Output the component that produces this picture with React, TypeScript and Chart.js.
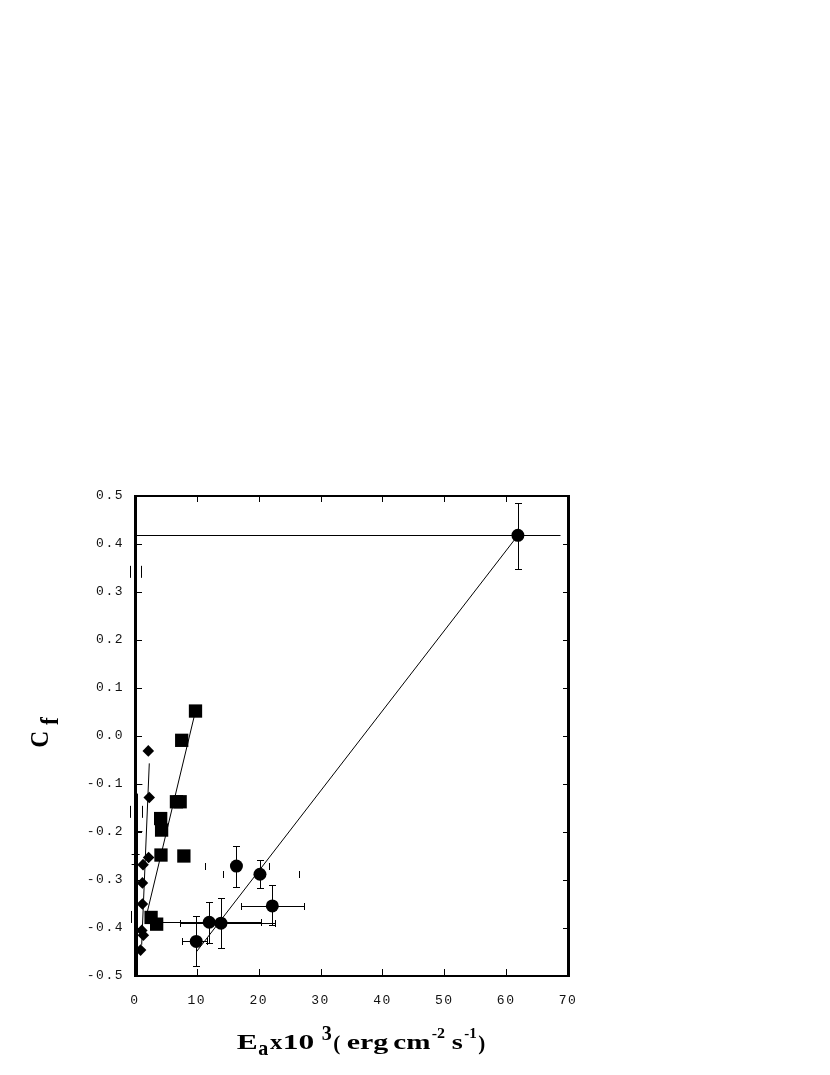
import React, { useEffect, useRef } from 'react';
import { Chart, registerables } from 'chart.js';

Chart.register(...registerables);

// ---- axis ticks ----
const xTickValues = [0, 10, 20, 30, 40, 50, 60, 70];
const yTickValues = [-0.5, -0.4, -0.3, -0.2, -0.1, 0, 0.1, 0.2, 0.3, 0.4, 0.5];

// ---- circle series (with error bars) ----
const circleX = [61.9, 16.4, 20.2, 22.2, 12.0, 13.9, 9.9];
const circleY = [0.418, -0.271, -0.288, -0.354, -0.388, -0.39, -0.428];
const circleXLo = [0, 11.3, 14.2, 17.1, 3.0, 7.3, 7.6];
const circleXHi = [68.7, 21.7, 26.5, 27.3, 20.3, 22.6, 11.6];
const circleYLo = [0.347, -0.314, -0.317, -0.393, -0.432, -0.442, -0.48];
const circleYHi = [0.486, -0.229, -0.258, -0.311, -0.345, -0.338, -0.375];
const circleXBarLine = [true, false, false, true, true, true, true];
const circleXBarCaps = [false, true, true, true, true, true, true];

// ---- square series ----
const squareX = [9.78, 7.55, 6.7, 7.3, 4.15, 4.3, 4.2, 7.9, 2.6, 3.5];
const squareY = [0.052, -0.009, -0.137, -0.137, -0.172, -0.196, -0.248, -0.25, -0.378, -0.392];

// ---- diamond series ----
const diamondX = [2.15, 2.3, 2.2, 1.3, 1.2, 1.2, 1.1, 1.35, 0.9];
const diamondY = [-0.031, -0.128, -0.253, -0.268, -0.306, -0.35, -0.405, -0.415, -0.446];

// ---- fitted lines ----
const circleFitX = [9.9, 61.9];
const circleFitY = [-0.45, 0.418];
const squareFitX = [1.83, 9.78];
const squareFitY = [-0.375, 0.052];
const diamondFitX = [1.08, 2.31];
const diamondFitY = [-0.435, -0.057];

// ---- stray error-bar remnants near the y axis ----
const stubX = [0.4, 0.4];
const stubY = [-0.12, -0.5];
const vCapX = [-0.8, 1.0, -0.8, 1.1, -0.65];
const vCapY = [0.342, 0.342, -0.158, -0.158, -0.377];
const hCapX = [0.55, 0.55, 0.1, 0.1];
const hCapY = [-0.099, -0.197, -0.245, -0.267];

const pts = (xs: number[], ys: number[]) => xs.map((x, i) => ({ x, y: ys[i] }));

function drawPiece(ctx: CanvasRenderingContext2D, text: string, font: string, x0: number, x1: number, baseline: number) {
  ctx.save();
  ctx.font = font;
  const m = ctx.measureText(text);
  const ink = m.actualBoundingBoxLeft + m.actualBoundingBoxRight;
  const sx = (x1 - x0) / ink;
  ctx.translate(x0 + m.actualBoundingBoxLeft * sx, baseline);
  ctx.scale(sx, 1);
  ctx.textAlign = 'left';
  ctx.textBaseline = 'alphabetic';
  ctx.fillText(text, 0, 0);
  ctx.restore();
}

function drawPieceRot(ctx: CanvasRenderingContext2D, text: string, font: string, yBottom: number, yTop: number, baselineX: number) {
  ctx.save();
  ctx.translate(baselineX, yBottom);
  ctx.rotate(-Math.PI / 2);
  drawPiece(ctx, text, font, 0, yBottom - yTop, 0);
  ctx.restore();
}

const framePlugin = {
  id: 'framePlugin',
  beforeDraw(chart: any) {
    (chart.ctx as any).letterSpacing = '1.5px';
  },
  beforeDatasetsDraw(chart: any) {
    const ctx: CanvasRenderingContext2D = chart.ctx;
    const xs = chart.scales.x;
    const ys = chart.scales.y;
    const X = (v: number) => xs.getPixelForValue(v);
    const Y = (v: number) => ys.getPixelForValue(v);
    ctx.save();
    ctx.strokeStyle = '#000';
    ctx.lineWidth = 1;
    const cap = 3.5;
    ctx.beginPath();
    for (let i = 0; i < circleX.length; i++) {
      const px = Math.round(X(circleX[i])) + 0.5;
      const py = Math.round(Y(circleY[i])) + 0.5;
      // vertical error bar
      const yl = Math.round(Y(circleYLo[i])) + 0.5;
      const yh = Math.round(Y(circleYHi[i])) + 0.5;
      ctx.moveTo(px, yl); ctx.lineTo(px, yh);
      ctx.moveTo(px - cap, yl); ctx.lineTo(px + cap, yl);
      ctx.moveTo(px - cap, yh); ctx.lineTo(px + cap, yh);
      // horizontal error bar
      const xl = Math.round(X(circleXLo[i])) + 0.5;
      const xh = Math.round(X(circleXHi[i])) + 0.5;
      if (circleXBarLine[i]) { ctx.moveTo(xl, py); ctx.lineTo(xh, py); }
      if (circleXBarCaps[i]) {
        ctx.moveTo(xl, py - cap); ctx.lineTo(xl, py + cap);
        ctx.moveTo(xh, py - cap); ctx.lineTo(xh, py + cap);
      }
    }
    // stray vertical stub
    const sx = Math.round(X(stubX[0])) + 0.5;
    ctx.moveTo(sx, Y(stubY[0])); ctx.lineTo(Math.round(X(stubX[1])) + 0.5, Y(stubY[1]));
    // stray caps
    for (let i = 0; i < vCapX.length; i++) {
      const px = Math.round(X(vCapX[i])) + 0.5;
      const py = Y(vCapY[i]);
      ctx.moveTo(px, py - 6); ctx.lineTo(px, py + 6);
    }
    for (let i = 0; i < hCapX.length; i++) {
      const px = X(hCapX[i]);
      const py = Math.round(Y(hCapY[i])) + 0.5;
      ctx.moveTo(px - 4, py); ctx.lineTo(px + 4, py);
    }
    ctx.stroke();
    ctx.restore();
  },
  afterDraw(chart: any) {
    const ctx: CanvasRenderingContext2D = chart.ctx;
    (ctx as any).letterSpacing = '0px';
    const xs = chart.scales.x;
    const ys = chart.scales.y;
    const { left, right, top, bottom } = chart.chartArea;
    ctx.save();
    ctx.fillStyle = '#000';
    // frame
    ctx.fillRect(left - 1, top - 1, 3, bottom - top + 2);
    ctx.fillRect(right - 1, top - 1, 3, bottom - top + 2);
    ctx.fillRect(left - 1, top - 1, right - left + 3, 2);
    ctx.fillRect(left - 1, bottom - 1, right - left + 3, 2);
    // inward ticks
    xTickValues.slice(1, -1).forEach((v) => {
      const px = Math.round(xs.getPixelForValue(v));
      ctx.fillRect(px, bottom - 7, 1, 6);
      ctx.fillRect(px, top + 1, 1, 5);
    });
    yTickValues.slice(1, -1).forEach((v) => {
      const py = Math.round(ys.getPixelForValue(v));
      ctx.fillRect(left + 2, py, 5, 1);
      ctx.fillRect(right - 5, py, 4, 1);
    });
    // x title
    const big = 'bold 22px "Liberation Serif"';
    const sm = 'bold 14px "Liberation Serif"';
    drawPiece(ctx, 'E', big, 228.7, 248.7, 1041.3);
    drawPiece(ctx, 'a', big, 250.3, 260.3, 1047);
    drawPiece(ctx, 'x', big, 262, 274.3, 1041.3);
    drawPiece(ctx, '10', big, 276.3, 306.3, 1041.3);
    drawPiece(ctx, '3', big, 313.7, 323.7, 1032);
    drawPiece(ctx, '(', big, 325.3, 332, 1042);
    drawPiece(ctx, 'erg', big, 338.7, 380.3, 1041.3);
    drawPiece(ctx, 'cm', big, 385.3, 422, 1041.3);
    drawPiece(ctx, '-2', sm, 423.7, 437, 1030.3);
    drawPiece(ctx, 's', big, 443.7, 455.3, 1041.3);
    drawPiece(ctx, '-1', sm, 456.3, 468.7, 1030.3);
    drawPiece(ctx, ')', big, 470.3, 477, 1042);
    // y title
    const yt = 'bold 25px "Liberation Serif"';
    drawPieceRot(ctx, 'C', yt, 738.7, 723.7, 40.3);
    drawPieceRot(ctx, 'f', yt, 717, 708.7, 50.3);
    ctx.restore();
  },
};

export default function App() {
  const ref = useRef<HTMLCanvasElement>(null);
  useEffect(() => {
    if (!ref.current) return;
    const tickFont = { family: '"Liberation Mono", monospace', size: 13 };
    const chart = new Chart(ref.current, {
      type: 'scatter',
      data: {
        datasets: [
          {
            label: 'circles',
            data: pts(circleX, circleY),
            pointStyle: 'circle',
            pointRadius: 6.5,
            backgroundColor: '#000',
            borderColor: '#000',
            borderWidth: 0,
          },
          {
            label: 'squares',
            data: pts(squareX, squareY),
            pointStyle: 'rect',
            pointRadius: 9.4,
            backgroundColor: '#000',
            borderColor: '#000',
            borderWidth: 0,
          },
          {
            label: 'diamonds',
            data: pts(diamondX, diamondY),
            pointStyle: 'rectRot',
            pointRadius: 5.8,
            backgroundColor: '#000',
            borderColor: '#000',
            borderWidth: 0,
          },
          {
            label: 'circle fit',
            data: pts(circleFitX, circleFitY),
            showLine: true,
            pointRadius: 0,
            borderColor: '#000',
            borderWidth: 1,
          },
          {
            label: 'square fit',
            data: pts(squareFitX, squareFitY),
            showLine: true,
            pointRadius: 0,
            borderColor: '#000',
            borderWidth: 1,
          },
          {
            label: 'diamond fit',
            data: pts(diamondFitX, diamondFitY),
            showLine: true,
            pointRadius: 0,
            borderColor: '#000',
            borderWidth: 1,
          },
        ],
      } as any,
      options: {
        responsive: false,
        animation: false,
        layout: { padding: { left: 0, right: 254, top: 488, bottom: 0 } },
        plugins: { legend: { display: false }, tooltip: { enabled: false } },
        scales: {
          x: {
            type: 'linear',
            min: 0,
            max: 70,
            afterBuildTicks: (s: any) => {
              s.ticks = xTickValues.map((v) => ({ value: v }));
            },
            grid: { display: false, drawTicks: false },
            border: { display: false },
            ticks: {
              padding: 17,
              font: tickFont,
              color: '#111',
              maxRotation: 0,
              autoSkip: false,
              callback: (v: any) => String(v),
            },
            afterFit: (s: any) => {
              s.height = 91;
            },
          },
          y: {
            type: 'linear',
            min: -0.5,
            max: 0.5,
            afterBuildTicks: (s: any) => {
              s.ticks = yTickValues.map((v) => ({ value: v }));
            },
            grid: { display: false, drawTicks: false },
            border: { display: false },
            ticks: {
              padding: 11,
              font: tickFont,
              color: '#111',
              autoSkip: false,
              callback: (v: any) => (Math.abs(Number(v)) < 1e-9 ? '0.0' : Number(v).toFixed(1)),
            },
            afterFit: (s: any) => {
              s.width = 127;
            },
          },
        },
      } as any,
      plugins: [framePlugin],
    });
    return () => chart.destroy();
  }, []);
  return <canvas ref={ref} width={814} height={1059} style={{ display: 'block' }} />;
}
